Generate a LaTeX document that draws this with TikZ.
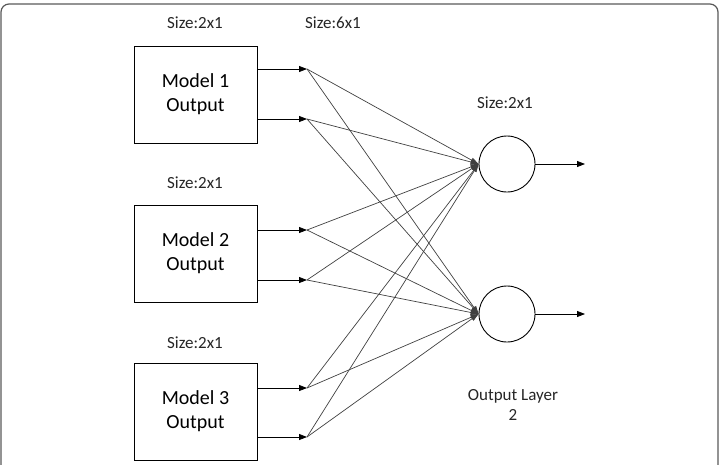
\documentclass[tikz,border=0pt]{standalone}
\usepackage{fontspec}
\setmainfont{Carlito}
\usetikzlibrary{arrows.meta}

\tikzset{
  model/.style={draw, line width=0.9pt, minimum width=123pt, minimum height=97pt,
    align=center, font=\fontsize{20}{24}\selectfont},
  neuron/.style={draw, circle, line width=0.9pt, minimum size=56pt, inner sep=0pt},
  sizelbl/.style={font=\fontsize{17}{20}\selectfont, text=black!85},
  feed/.style={-{Triangle[length=8pt,width=6pt]}, line width=0.8pt},
  weight/.style={-{Triangle[length=8pt,width=5pt]}, line width=0.7pt, draw=black!75},
}

\begin{document}
\begin{tikzpicture}[x=1pt, y=-1pt]
  \useasboundingbox (0,0) rectangle (719,464);
  \draw[gray!70!black, line width=1.2pt, rounded corners=8pt] (1,4) rectangle (718,490);

  % models
  \node[model] (M1) at (195.5,94.5) {Model 1\\Output};
  \node[model] (M2) at (195.5,253.5) {Model 2\\Output};
  \node[model] (M3) at (195.5,411.5) {Model 3\\Output};
  \node[sizelbl] (s1) at (195,23) {Size:2x1};
  \node[sizelbl] (s2) at (195,183) {Size:2x1};
  \node[sizelbl] (s3) at (195,343) {Size:2x1};
  \node[sizelbl] (s6) at (333,23) {Size:6x1};

  % hidden points
  \coordinate (h1) at (307,69);  \coordinate (h2) at (307,119);
  \coordinate (h3) at (307,230); \coordinate (h4) at (307,280);
  \coordinate (h5) at (307,388); \coordinate (h6) at (307,437);
  \draw[feed] (M1.east |- h1) -- (h1); \draw[feed] (M1.east |- h2) -- (h2);
  \draw[feed] (M2.east |- h3) -- (h3); \draw[feed] (M2.east |- h4) -- (h4);
  \draw[feed] (M3.east |- h5) -- (h5); \draw[feed] (M3.east |- h6) -- (h6);

  % output layer
  \node[neuron] (o1) at (507,164) {};
  \node[neuron] (o2) at (507,314) {};
  \node[sizelbl] (s7) at (505,103) {Size:2x1};
  \node[sizelbl, align=center] (ol) at (513,405) {Output Layer\\2};
  \coordinate (y1) at (585,164); \coordinate (y2) at (585,314);
  \draw[feed] (o1) -- (y1); \draw[feed] (o2) -- (y2);

  \foreach \h in {h1,h2,h3,h4,h5,h6}
    \foreach \o in {o1,o2}
      \draw[weight] (\h) -- (\o.west);
\end{tikzpicture}
\end{document}
